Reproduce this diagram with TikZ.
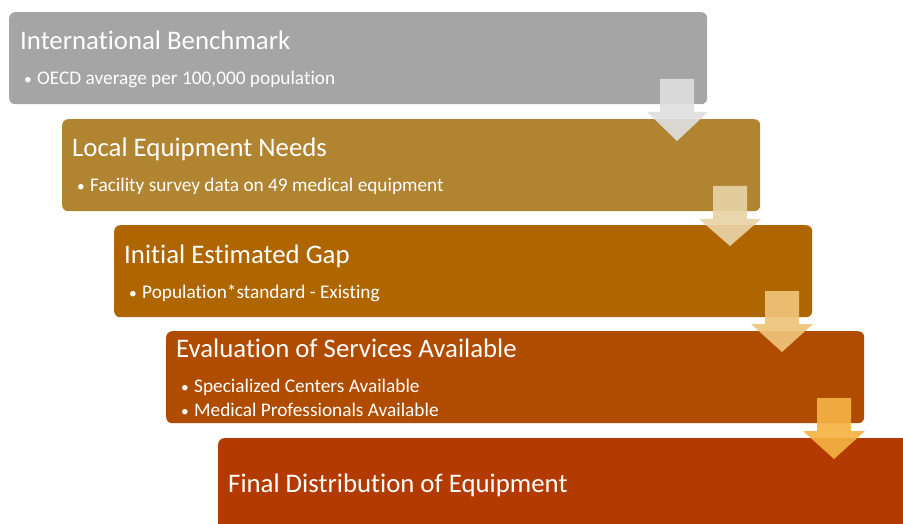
\documentclass[tikz,border=0pt]{standalone}
\usepackage{fontspec}
\setmainfont{Carlito}[RawFeature={-liga}]
\definecolor{cA}{HTML}{A5A5A5}
\definecolor{cB}{HTML}{B08431}
\definecolor{cC}{HTML}{AF6500}
\definecolor{cD}{HTML}{B04C00}
\definecolor{cE}{HTML}{B33A00}
\definecolor{aA}{HTML}{DEDEDE}
\definecolor{aB}{HTML}{E8D3A6}
\definecolor{aC}{HTML}{EEC47A}
\definecolor{aD}{HTML}{F4B244}
\tikzset{
  stage/.style={fill=#1, draw=none, rounded corners=6pt, minimum width=698pt, minimum height=92pt, anchor=north west, inner sep=0pt},
  ttl/.style={text=white, inner sep=0pt, anchor=base west, font=\fontsize{26.8}{30}\selectfont},
  bul/.style={text=white, inner sep=0pt, anchor=base west, font=\fontsize{19.3}{22}\selectfont},
  blk/.style={fill=#1, opacity=0.92}
}
\newcommand{\bt}{\makebox[13pt][l]{\scalebox{0.8}{•}}}
\begin{document}
\begin{tikzpicture}[x=1pt,y=-1pt]
\useasboundingbox (0,0) rectangle (903,524);
\clip (0,0) rectangle (903,524);
% boxes
\node[stage=cA] (b1) at (9,12) {};
\node[stage=cB] (b2) at (62,119) {};
\node[stage=cC] (b3) at (114,225) {};
\node[stage=cD] (b4) at (166,331) {};
\node[stage=cE, minimum width=700pt, minimum height=110pt] (b5) at (218,438) {};
% texts
\node[ttl] (t1) at (20,50) {International Benchmark};
\node[bul] (s1) at (24,85) {\bt OECD average per 100,000 population};
\node[ttl] (t2) at (72,157) {Local Equipment Needs};
\node[bul] (s2) at (77,192) {\bt Facility survey data on 49 medical equipment};
\node[ttl] (t3) at (124,263) {Initial Estimated Gap};
\node[bul] (s3) at (129,298) {\bt Population*standard - Existing};
\node[ttl] (t4) at (176,357) {Evaluation of Services Available};
\node[bul] (s4a) at (181,392) {\bt Specialized Centers Available};
\node[bul] (s4b) at (181,416) {\bt Medical Professionals Available};
\node[ttl] (t5) at (228,492) {Final Distribution of Equipment};
% block arrows
\fill[blk=aA] (660,79) -- (694,79) -- (694,112) -- (708,112) -- (677,141) -- (647,112) -- (660,112) -- cycle;
\fill[blk=aB] (713,186) -- (747,186) -- (747,219) -- (761,219) -- (730,246) -- (699,219) -- (713,219) -- cycle;
\fill[blk=aC] (765,291) -- (799,291) -- (799,324) -- (813,324) -- (782,352) -- (751,324) -- (765,324) -- cycle;
\fill[blk=aD] (817,398) -- (851,398) -- (851,431) -- (865,431) -- (834,459) -- (803,431) -- (817,431) -- cycle;
\end{tikzpicture}
\end{document}
